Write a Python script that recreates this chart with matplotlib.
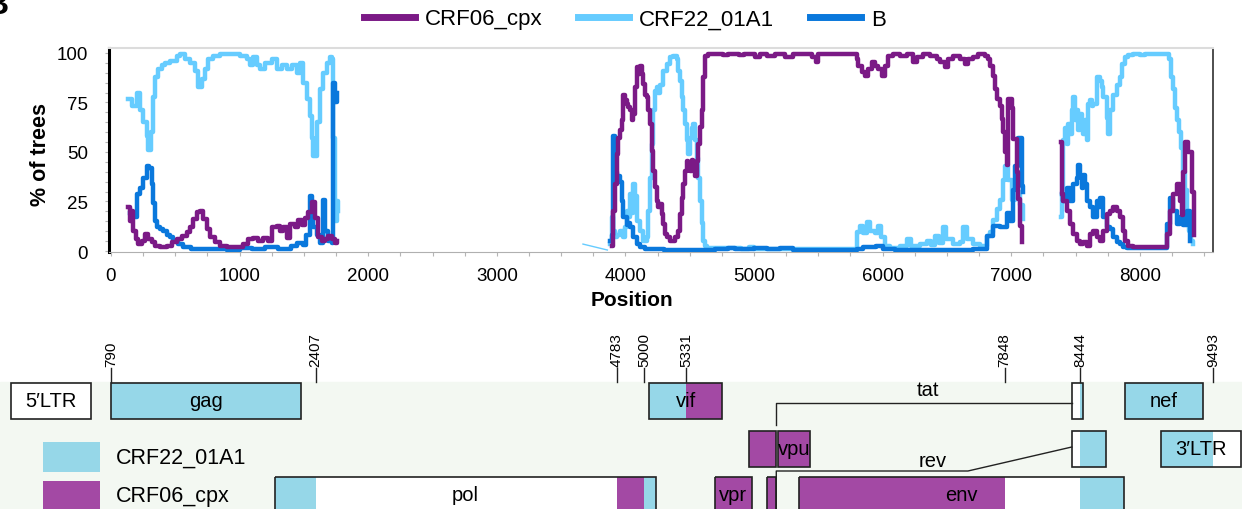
import numpy as np
import matplotlib
matplotlib.use("Agg")
import matplotlib.pyplot as plt
from matplotlib.patches import Rectangle

plt.rcParams['font.family'] = ['Liberation Sans', 'DejaVu Sans']

# ---- bootscan data: (position, % of trees), one list per window segment ----
crf06_r1 = [(135, 22), (148, 15), (161, 20), (174, 10), (194, 6), (213, 3.5), (239, 5), (264, 8.6), (290, 6),
            (316, 4.4), (342, 2.7), (381, 2), (433, 2.7), (472, 4.4), (511, 6), (550, 7.8), (589, 9.5), (614, 12),
            (640, 16), (666, 19.5), (692, 20.4), (718, 16), (744, 11), (770, 7), (809, 4.4), (848, 2.7), (900, 2),
            (957, 1.9), (1029, 3.4), (1068, 5.9), (1107, 6.8), (1146, 5), (1185, 6.8), (1224, 5), (1249, 11.9),
            (1288, 12.8), (1314, 10), (1340, 11.9), (1366, 6.8), (1392, 13.6), (1431, 11.9), (1457, 15.7), (1483, 13),
            (1509, 16.6), (1535, 19.9), (1560, 24.5), (1586, 16.6), (1612, 7), (1638, 5.2), (1664, 6), (1690, 7.7),
            (1716, 6), (1742, 4), (1760, 5)]
crf06_r2 = [(3893, 2.7), (3906, 20), (3919, 34), (3932, 49), (3945, 57), (3958, 61), (3971, 66), (3984, 79),
            (3997, 76), (4010, 74), (4023, 72.6), (4036, 71), (4049, 66), (4062, 69), (4075, 82.7), (4088, 92.8),
            (4101, 89.4), (4114, 93.6), (4127, 89.4), (4140, 84.4), (4153, 79), (4166, 77.6), (4179, 71), (4192, 64),
            (4204, 50.7), (4217, 40.6), (4230, 32.2), (4243, 25.4), (4256, 22), (4269, 23.7), (4282, 18.6),
            (4295, 13.6), (4308, 8.6), (4321, 6.9), (4347, 5.2), (4386, 6.9), (4412, 10.3), (4425, 18.6), (4438, 27),
            (4451, 33.8), (4464, 40.6), (4477, 45.6), (4490, 44), (4503, 40.6), (4516, 46), (4529, 44), (4542, 38),
            (4554, 45.6), (4567, 54), (4580, 62.4), (4593, 71), (4606, 87.8), (4619, 98.7), (4640, 99.5),
            (4700, 99.5), (4760, 98.8), (4800, 99.5), (4880, 98.8), (4920, 99.5), (5010, 98), (5050, 99.5),
            (5100, 98.7), (5160, 99.5), (5240, 98.2), (5300, 99.5), (5450, 98), (5480, 95.5), (5500, 99.5),
            (5773, 99.5), (5799, 97), (5811, 93.6), (5837, 90.2), (5863, 88.6), (5889, 92), (5915, 95.3),
            (5941, 93.6), (5967, 92), (5993, 88.6), (6019, 93.6), (6045, 98.7), (6083, 99.5), (6135, 98.7),
            (6187, 99.5), (6239, 95.3), (6265, 98), (6317, 99.5), (6369, 98.7), (6421, 97), (6447, 95.3),
            (6485, 92.8), (6511, 97), (6550, 98.7), (6602, 97), (6641, 94.5), (6667, 97), (6706, 98), (6745, 99.5),
            (6797, 98.7), (6823, 97), (6836, 93.6), (6861, 88.6), (6874, 81.8), (6887, 76.8), (6913, 73.4),
            (6926, 66.7), (6939, 60), (6952, 50), (6965, 43.4), (6978, 77), (7004, 72), (7017, 56.6), (7043, 39.7),
            (7056, 26.3), (7069, 12.8), (7082, 4.4)]
crf06_r3 = [(7385, 55), (7393, 29), (7406, 25), (7432, 20), (7457, 13.6), (7483, 8.6), (7509, 5.2), (7535, 3.5),
            (7561, 4.4), (7587, 2.7), (7613, 8.6), (7639, 10.3), (7665, 6.9), (7691, 5), (7717, 10.3), (7742, 18.6),
            (7768, 20.2), (7794, 22), (7820, 20), (7846, 17), (7872, 10.3), (7885, 5.2), (7911, 2.7), (7950, 2),
            (8200, 2), (8209, 8.6), (8235, 20), (8261, 29), (8287, 34), (8313, 25), (8326, 18), (8339, 40),
            (8352, 55), (8378, 50), (8404, 30), (8420, 8)]

crf22_r1 = [(130, 77), (160, 73), (200, 80), (225, 71), (250, 65), (277, 58), (290, 51), (311, 60), (329, 78),
            (342, 88), (368, 92), (394, 94), (420, 95), (459, 96), (510, 98.7), (536, 99.5), (575, 97), (614, 95),
            (653, 91), (679, 83), (705, 87), (731, 92), (757, 97), (796, 98.7), (847, 99.5), (925, 99.5),
            (1003, 98.7), (1055, 97), (1081, 94), (1107, 98), (1133, 94), (1159, 92), (1197, 95), (1249, 97),
            (1288, 92), (1327, 94), (1366, 92), (1405, 94), (1444, 90), (1470, 95), (1496, 85), (1522, 77),
            (1547, 68), (1560, 57), (1573, 48), (1599, 65), (1625, 82), (1651, 90), (1677, 95), (1703, 98),
            (1716, 97), (1729, 57), (1742, 15), (1755, 25), (1768, 20)]
crf22_gap = [(3670, 3.5), (3860, 0.5)]
crf22_r2 = [(3881, 3.4), (3893, 17), (3906, 10), (3919, 7), (3932, 8), (3958, 10), (3984, 7), (3997, 12),
            (4010, 20), (4023, 17), (4036, 29), (4049, 19), (4062, 34), (4075, 28), (4088, 15), (4114, 10),
            (4140, 5), (4166, 7), (4179, 20), (4192, 37), (4204, 54), (4217, 71), (4230, 81), (4243, 83), (4256, 80),
            (4269, 84), (4295, 91), (4321, 94.5), (4347, 97.8), (4373, 98.7), (4399, 97), (4412, 91), (4425, 86),
            (4438, 78), (4451, 71), (4464, 64), (4477, 56), (4490, 49), (4503, 57), (4516, 62), (4529, 64),
            (4542, 56), (4554, 47), (4567, 37), (4580, 25), (4593, 14), (4606, 5), (4619, 2.7), (4632, 1.5),
            (4900, 1), (4960, 2), (5000, 1.2), (5200, 1), (5799, 9.4), (5824, 12.8), (5850, 9), (5876, 14.5),
            (5902, 10), (5940, 9), (5967, 12.8), (5990, 7), (6020, 2.5), (6058, 1.5), (6135, 2.5), (6187, 6),
            (6220, 2.5), (6291, 3.5), (6343, 5), (6380, 3), (6410, 7.7), (6435, 4), (6470, 11.9), (6490, 6),
            (6550, 3.5), (6602, 4.5), (6628, 11.9), (6654, 6), (6706, 3.5), (6758, 2.5), (6810, 7.7), (6836, 9.4),
            (6861, 15.7), (6887, 21), (6913, 26), (6939, 36), (6952, 43), (6978, 36), (7004, 26), (7030, 36),
            (7056, 30), (7069, 23), (7094, 16)]
crf22_r3 = [(7388, 17), (7393, 29), (7406, 56), (7419, 62), (7432, 54), (7445, 64), (7457, 59), (7470, 71),
            (7483, 78), (7496, 66), (7509, 71), (7522, 61), (7535, 69), (7548, 64), (7561, 59), (7574, 66),
            (7587, 56), (7600, 74), (7613, 76), (7626, 73), (7639, 74), (7665, 88), (7691, 86), (7704, 83),
            (7717, 78), (7742, 67), (7755, 59), (7768, 71), (7794, 79), (7820, 84), (7846, 88), (7859, 94.5),
            (7885, 98), (7911, 99.2), (7950, 99.5), (8000, 99), (8040, 99.5), (8200, 99.5), (8228, 97), (8245, 88),
            (8259, 82), (8275, 72), (8290, 66), (8306, 60), (8321, 52), (8337, 40), (8352, 31), (8368, 18),
            (8383, 10), (8399, 5), (8414, 3.5)]

b_r1 = [(150, 19), (174, 17), (200, 29), (226, 32), (251, 37), (277, 43), (298, 42), (316, 34), (329, 24),
        (342, 15), (355, 12), (381, 11), (407, 10), (433, 8), (459, 7), (485, 5), (524, 3.5), (563, 2), (620, 1),
        (900, 0.5), (1000, 1.5), (1100, 1), (1200, 2), (1300, 1), (1400, 2.5), (1450, 4), (1490, 3), (1520, 8),
        (1547, 28), (1560, 20), (1573, 12), (1599, 8), (1625, 4), (1651, 26), (1664, 10), (1690, 5), (1716, 4),
        (1729, 85), (1742, 75), (1755, 80)]
b_r2 = [(3880, 5), (3893, 8), (3906, 58), (3919, 40), (3932, 38), (3958, 35), (3971, 25), (3984, 17), (4010, 13),
        (4023, 14), (4036, 12), (4062, 7), (4088, 3.5), (4114, 2), (4150, 1), (4300, 0.5), (4700, 1), (4800, 1.5),
        (4850, 1), (5000, 1.5), (5100, 1), (5200, 1.5), (5300, 0.5), (5800, 1), (5850, 2), (5950, 2.5), (6000, 1),
        (6100, 0.5), (6700, 1), (6810, 7.7), (6861, 12.8), (6913, 12), (6965, 19), (6991, 15), (7017, 31),
        (7030, 43), (7056, 57), (7069, 57), (7082, 33), (7094, 30)]
b_r3 = [(7393, 29), (7406, 25), (7432, 32), (7457, 25), (7483, 34), (7509, 37), (7522, 43.4), (7535, 38),
        (7548, 32), (7561, 38.6), (7574, 34), (7587, 25.4), (7613, 22), (7639, 17), (7665, 25), (7678, 22),
        (7691, 27), (7717, 17), (7742, 12), (7768, 11), (7794, 6.9), (7820, 4.4), (7846, 3.5), (7872, 1.9),
        (7898, 1.5), (8200, 1.5), (8209, 13.6), (8235, 27), (8261, 20), (8287, 13.6), (8313, 17), (8339, 13),
        (8365, 20), (8391, 5)]

# ---- genome map (HXB2 positions) ----
genes = ['5\u2032LTR', 'gag', 'pol', 'vif', 'vpr', 'tat', 'rev', 'vpu', 'env', 'tat2', 'rev2', 'nef', '3\u2032LTR']
gene_start = [1, 790, 2085, 5041, 5559, 5831, 5970, 6062, 6225, 8379, 8379, 8797, 9086]
gene_end = [634, 2292, 5096, 5619, 5850, 6045, 6045, 6310, 8795, 8469, 8653, 9417, 9719]
gene_label = ['5\u2032LTR', 'gag', 'pol', 'vif', 'vpr', '', '', 'vpu', 'env', '', '', 'nef', '3\u2032LTR']
# subtype pieces inside genes: (start, end, subtype)
pieces = [(790, 2292, 'CRF22_01A1'), (2085, 2407, 'CRF22_01A1'), (4783, 5000, 'CRF06_cpx'),
          (5000, 5096, 'CRF22_01A1'), (5041, 5331, 'CRF22_01A1'), (5331, 5619, 'CRF06_cpx'),
          (5559, 5850, 'CRF06_cpx'), (5831, 6045, 'CRF06_cpx'), (5970, 6045, 'CRF06_cpx'),
          (6062, 6310, 'CRF06_cpx'), (6225, 7848, 'CRF06_cpx'), (8444, 8795, 'CRF22_01A1'),
          (8444, 8469, 'CRF22_01A1'), (8444, 8653, 'CRF22_01A1'), (8797, 9417, 'CRF22_01A1'),
          (9086, 9493, 'CRF22_01A1')]
piece_gene = [1, 2, 2, 2, 3, 3, 4, 5, 6, 7, 8, 8, 9, 10, 11, 12]
breakpoints = [790, 2407, 4783, 5000, 5331, 7848, 8444, 9493]

line_colors = {'CRF06_cpx': '#7b1a86', 'CRF22_01A1': '#66ccff', 'B': '#0a78dc'}
map_colors = {'CRF22_01A1': '#96d7e8', 'CRF06_cpx': '#a349a4'}


def joined(*segs):
    xs, ys = [], []
    for s in segs:
        xs += [p[0] for p in s] + [s[-1][0]]
        ys += [p[1] for p in s] + [np.nan]
    return xs, ys


W, H = 1242, 510
fig = plt.figure(figsize=(W / 100, H / 100), dpi=100)

# ---------------- bootscan panel ----------------
ax = fig.add_axes([109 / W, 1 - 253 / H, 1104 / W, 204 / H])
lw = 3.2
x, y = joined(crf22_r1, crf22_r2, crf22_r3)
ax.plot(x, y, drawstyle='steps-post', color=line_colors['CRF22_01A1'], lw=lw, zorder=2)
ax.plot([p[0] for p in crf22_gap], [p[1] for p in crf22_gap], color=line_colors['CRF22_01A1'], lw=1, zorder=2)
x, y = joined(b_r1, b_r2, b_r3)
ax.plot(x, y, drawstyle='steps-post', color=line_colors['B'], lw=lw, zorder=3)
x, y = joined(crf06_r1, crf06_r2, crf06_r3)
ax.plot(x, y, drawstyle='steps-post', color=line_colors['CRF06_cpx'], lw=lw, zorder=4)

ax.set_xlim(-15.5, 8569)
ax.set_ylim(-0.5, 102.5)
ax.set_xticks(range(0, 8001, 1000))
ax.set_xticks(np.arange(0, 8501, 250), minor=True)
ax.set_yticks([0, 25, 50, 75, 100])
ax.set_yticks(np.arange(0, 101, 5), minor=True)
ax.tick_params(which='both', colors='#b5b5b5', length=3, width=0.8, labelsize=13.5, labelcolor='black')
ax.tick_params(axis='y', pad=12)
ax.tick_params(axis='x', pad=8)
ax.spines['left'].set_linewidth(2.2)
ax.spines['left'].set_color('black')
ax.spines['bottom'].set_color('#b0b0b0')
ax.spines['top'].set_color('#dcdcdc')
ax.spines['top'].set_linewidth(1.5)
ax.spines['right'].set_color('#404040')
ax.spines['right'].set_linewidth(1.3)

fig.text(632 / W, 1 - 301 / H, 'Position', ha='center', va='center', fontsize=15, fontweight='bold')
fig.text(40 / W, 1 - 154 / H, '% of trees', ha='center', va='center', rotation=90, fontsize=15.5,
         fontweight='bold')
fig.text(9 / W, 1 - 6 / H, 'B', ha='right', va='center', fontsize=24, fontweight='bold')

handles = [plt.Line2D([], [], color=line_colors[k], lw=5) for k in ['CRF06_cpx', 'CRF22_01A1', 'B']]
fig.legend(handles, ['CRF06_cpx', 'CRF22_01A1', 'B'], loc='center', bbox_to_anchor=(625 / W, 1 - 20 / H),
           ncol=3, frameon=False, fontsize=16, handlelength=2.3, handletextpad=0.45, columnspacing=1.6)

# ---------------- genome map ----------------
scale = 0.1266
ax2 = fig.add_axes([0, 0, 1, 190 / H])
ax2.set_xlim(790 - 111 / scale, 790 + (W - 111) / scale)
ax2.set_ylim(H, 320)
ax2.axis('off')
ax2.axhspan(383, H, color='#f3f8f2', zorder=0)

row_of = {0: 1, 1: 1, 2: 3, 3: 1, 4: 3, 5: 2, 6: 3, 7: 2, 8: 3, 9: 1, 10: 2, 11: 1, 12: 2}
row_top = {1: 384, 2: 432, 3: 478}
row_h = 35.5

for i, g in enumerate(genes):
    top = row_top[row_of[i]]
    ax2.add_patch(Rectangle((gene_start[i], top), gene_end[i] - gene_start[i], row_h,
                            facecolor='white', edgecolor='none', zorder=1))
for (s, e, st), gi in zip(pieces, piece_gene):
    top = row_top[row_of[gi]]
    ax2.add_patch(Rectangle((s, top), e - s, row_h, facecolor=map_colors[st], edgecolor='none', zorder=2))
for i, g in enumerate(genes):
    top = row_top[row_of[i]]
    ax2.add_patch(Rectangle((gene_start[i], top), gene_end[i] - gene_start[i], row_h,
                            facecolor='none', edgecolor='#222222', lw=1.2, zorder=3))
    if gene_label[i]:
        ax2.text((gene_start[i] + gene_end[i]) / 2, top + row_h / 2, gene_label[i], ha='center', va='center',
                 fontsize=14.5, zorder=4)

# splice connectors for tat and rev
ax2.plot([6045, 6045, 8379], [426, 404, 404], color='#222222', lw=1, zorder=3)
ax2.plot([6045, 6045, 7559, 8379], [H + 5, 472, 472, 448], color='#222222', lw=1, zorder=3)
ax2.text(7243, 391, 'tat', ha='center', va='center', fontsize=14.5)
ax2.text(7283, 462, 'rev', ha='center', va='center', fontsize=14.5)

for p in breakpoints:
    ax2.plot([p, p], [369, 383], color='#222222', lw=1)
    ax2.text(p, 367, str(p), rotation=90, ha='center', va='bottom', fontsize=11)

# subtype key
for k, (st, ytop) in enumerate([('CRF22_01A1', 443), ('CRF06_cpx', 482)]):
    fig.patches.append(Rectangle((43 / W, 1 - (ytop + 30) / H), 57 / W, 30 / H, transform=fig.transFigure,
                                 facecolor=map_colors[st], edgecolor='none', zorder=5))
    fig.text(116 / W, 1 - (ytop + 15) / H, st, ha='left', va='center', fontsize=15.5)

fig.savefig('out.png', dpi=100)
